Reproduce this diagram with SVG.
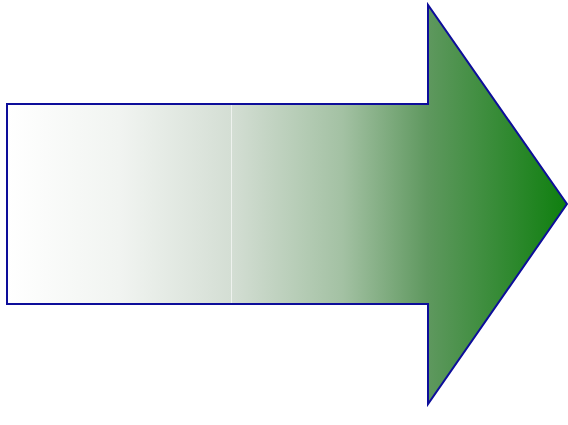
<svg xmlns="http://www.w3.org/2000/svg" width="568" height="425" viewBox="0 0 568 425">
<defs>
<linearGradient id="g" gradientUnits="userSpaceOnUse" x1="7" y1="0" x2="567" y2="0">
<stop offset="0" stop-color="#ffffff"/>
<stop offset="0.2" stop-color="#f1f4f1"/>
<stop offset="0.4" stop-color="#d4ded4"/>
<stop offset="0.6" stop-color="#a3c1a3"/>
<stop offset="0.75" stop-color="#5f985f"/>
<stop offset="1" stop-color="#0f7f0f"/>
</linearGradient>
<style>.a{fill:url(#g);stroke:#0d0d9a;stroke-width:2;stroke-linejoin:miter}.s{stroke:#ffffff;stroke-opacity:0.6;stroke-width:1}</style>
</defs>
<g id="arrow">
<path class="a" d="M7,104 L428,104 L428,5 L567,204 L428,404 L428,304 L7,304 Z"/>
<line class="s" x1="231.5" y1="105" x2="231.5" y2="303"/>
</g>
</svg>
